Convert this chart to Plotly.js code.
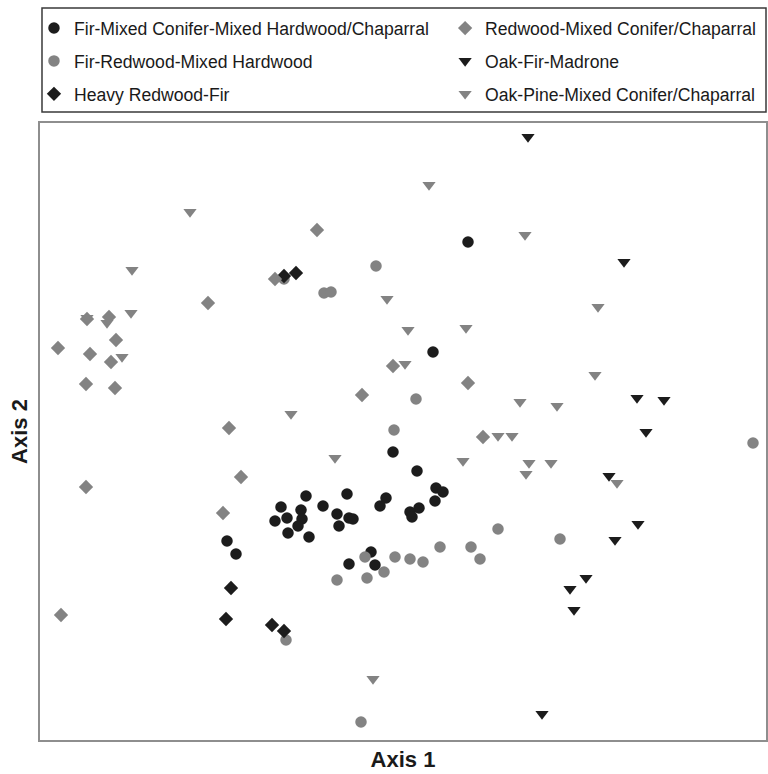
<!DOCTYPE html>
<html>
<head>
<meta charset="utf-8">
<script src="https://cdn.plot.ly/plotly-3.0.1.min.js"></script>
<style>html,body{margin:0;padding:0;background:#fff;}#chart{width:768px;height:774px;}</style>
</head>
<body>
<div id="chart"></div>
<script>
// Ordination scores (arbitrary axis units; axes carry no ticks)
const seriesNames = [
  "Fir-Mixed Conifer-Mixed Hardwood/Chaparral",
  "Fir-Redwood-Mixed Hardwood",
  "Heavy Redwood-Fir",
  "Redwood-Mixed Conifer/Chaparral",
  "Oak-Fir-Madrone",
  "Oak-Pine-Mixed Conifer/Chaparral"
];

const firMixedX = [428,393,353,377,396,403,395,379,370,372,346,340,307,297,309,313,299,283,266,261,262,258,247,241,235,248,269,187,196,331,309,335];
const firMixedY = [498,388,288,269,252,248,239,232,228,223,242,234,246,226,222,221,214,234,244,230,221,214,222,233,219,207,203,199,186,188,176,175];

const firRedwoodX = [244,336,284,291,376,354,458,400,431,713,520,325,355,370,383,440,344,327,297,246,321];
const firRedwoodY = [461,474,447,448,341,310,211,193,193,297,201,183,183,181,178,181,168,162,160,100,18];

const heavyRedwoodX = [256,244,191,186,232,244];
const heavyRedwoodY = [467,464,152,121,115,109];

const redwoodMixedX = [47,69,168,235,76,277,18,50,71,46,75,189,201,46,183,353,322,428,443,21];
const redwoodMixedY = [421,423,437,461,400,510,392,386,378,356,352,312,263,253,227,374,345,357,303,125];

const oakFirX = [488,584,597,624,606,569,598,575,546,530,534,502];
const oakFirY = [603,478,342,340,308,264,216,200,162,151,130,26];

const oakPineX = [150,92,91,67,47,82,389,347,368,426,485,558,365,251,295,423,458,472,480,555,517,489,511,486,577,333];
const oakPineY = [528,470,427,417,422,383,555,441,410,412,505,433,376,326,282,279,304,304,338,365,334,277,277,266,257,61];

const xRange = [0, 726];
const yRange = [0, 617];

const BLACK = "#1c1c1c";
const GRAY = "#838383";
const FONT = "Liberation Sans, Arial, sans-serif";

function tr(name, x, y, symbol, color, size, legend, group) {
  return {
    type: "scatter", mode: "markers", name: name, x: x, y: y,
    legend: legend, legendgroup: group,
    marker: {symbol: symbol, color: color, size: size, line: {width: 0}},
    hoverinfo: "skip"
  };
}

const data = [
  tr(seriesNames[0], firMixedX, firMixedY, "circle", BLACK, 11.5, "legend", "a"),
  tr(seriesNames[1], firRedwoodX, firRedwoodY, "circle", GRAY, 11.5, "legend", "b"),
  tr(seriesNames[2], heavyRedwoodX, heavyRedwoodY, "diamond", BLACK, 11, "legend", "c"),
  tr(seriesNames[3], redwoodMixedX, redwoodMixedY, "diamond", GRAY, 11, "legend2", "d"),
  tr(seriesNames[4], oakFirX, oakFirY, "triangle-down", BLACK, 11.5, "legend2", "e"),
  tr(seriesNames[5], oakPineX, oakPineY, "triangle-down", GRAY, 11.5, "legend2", "f")
];

const legendCommon = {
  orientation: "v", traceorder: "grouped", tracegroupgap: 7,
  bgcolor: "rgba(0,0,0,0)", borderwidth: 0,
  font: {family: FONT, size: 17.6, color: "#1a1a1a"},
  xanchor: "left", yanchor: "top", itemclick: false, itemdoubleclick: false
};

const layout = {
  width: 768, height: 774,
  paper_bgcolor: "#ffffff", plot_bgcolor: "#ffffff",
  margin: {l: 40, r: 2, t: 123, b: 34},
  showlegend: true,
  font: {family: FONT},
  xaxis: {
    range: xRange, showgrid: false, zeroline: false, showticklabels: false, ticks: "",
    showline: true, mirror: true, linecolor: "#8e8e8e", linewidth: 2,
    title: {text: "Axis 1", font: {family: FONT, size: 22, weight: "bold", color: "#1a1a1a"}, standoff: 11}
  },
  yaxis: {
    range: yRange, showgrid: false, zeroline: false, showticklabels: false, ticks: "",
    showline: true, mirror: true, linecolor: "#8e8e8e", linewidth: 2,
    title: {text: "Axis 2", font: {family: FONT, size: 22, weight: "bold", color: "#1a1a1a"}, standoff: 4}
  },
  legend: Object.assign({}, legendCommon, {x: -0.0083, y: 1.183}),
  legend2: Object.assign({}, legendCommon, {x: 0.558, y: 1.183}),
  shapes: [{
    type: "rect", xref: "paper", yref: "paper",
    x0: 0.00275, x1: 1.0, y0: 1.0178, y1: 1.1864,
    line: {color: "#3a3a3a", width: 1.5}, fillcolor: "rgba(0,0,0,0)"
  }]
};

Plotly.newPlot("chart", data, layout, {displayModeBar: false, staticPlot: true});
</script>
</body>
</html>
